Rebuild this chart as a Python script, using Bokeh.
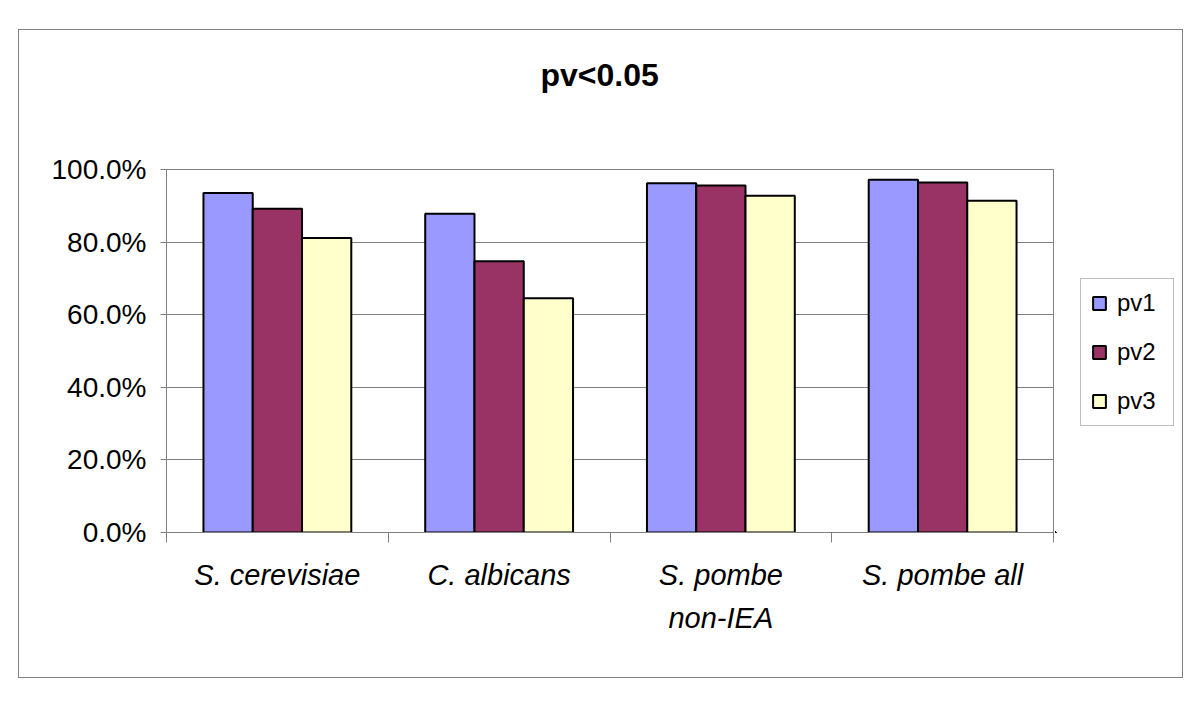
from bokeh.plotting import figure
from bokeh.layouts import row
from bokeh.models import (ColumnDataSource, FixedTicker, NumeralTickFormatter, Legend,
                          LegendItem, Range1d, Title)
from bokeh.transform import dodge
from bokeh.embed import file_html
from bokeh.resources import INLINE

# ---- data ----
categories = ["S. cerevisiae", "C. albicans", "S. pombe\nnon-IEA", "S. pombe all"]
series_names = ["pv1", "pv2", "pv3"]
pv1 = [0.935, 0.878, 0.962, 0.972]
pv2 = [0.892, 0.747, 0.956, 0.964]
pv3 = [0.811, 0.645, 0.928, 0.914]
y_ticks = [0.0, 0.2, 0.4, 0.6, 0.8, 1.0]
title_text = "pv<0.05"

colors = ["#9999FF", "#993366", "#FFFFCC"]
FONT = "Liberation Sans"
GRAY = "#808080"

n = len(categories)
centers = [i + 0.5 for i in range(n)]
bar_w = 1 / 4.5

p = figure(width=1036, height=647, output_backend="svg", toolbar_location=None,
           x_range=Range1d(0, n), y_range=Range1d(0, 1),
           min_border_left=147, min_border_right=2,
           min_border_top=139, min_border_bottom=145)
p.background_fill_color = "white"
p.border_fill_color = "white"
p.outline_line_color = GRAY
p.outline_line_width = 1

# spacer between the title and the plot area, then the title itself
p.add_layout(Title(text=" ", text_font_size="1px", standoff=72), "above")
p.add_layout(Title(text=title_text, align="left", offset=374, vertical_align="top",
                   standoff=0, text_font=FONT, text_font_size="32px",
                   text_font_style="bold", text_color="black"), "above")

src = ColumnDataSource(dict(x=centers, pv1=pv1, pv2=pv2, pv3=pv3))
for k, (name, col) in enumerate(zip(series_names, colors)):
    p.vbar(x=dodge("x", (k - 1) * bar_w, range=p.x_range), top=name, bottom=0,
           width=bar_w, source=src, fill_color=col, line_color="black", line_width=2)

# y axis
p.yaxis.ticker = FixedTicker(ticks=y_ticks)
p.yaxis.formatter = NumeralTickFormatter(format="0.0%")
p.yaxis.axis_line_color = GRAY
p.yaxis.major_tick_line_color = GRAY
p.yaxis.major_tick_in = 0
p.yaxis.major_tick_out = 6
p.yaxis.minor_tick_line_color = None
p.yaxis.major_label_text_font = FONT
p.yaxis.major_label_text_font_size = "28px"
p.yaxis.major_label_text_color = "black"
p.yaxis.major_label_standoff = 14

# x axis
p.xaxis.ticker = FixedTicker(ticks=centers, minor_ticks=list(range(n + 1)))
p.xaxis.major_label_overrides = {c: lab for c, lab in zip(centers, categories)}
p.xaxis.axis_line_color = GRAY
p.xaxis.major_tick_line_color = None
p.xaxis.major_tick_in = 0
p.xaxis.major_tick_out = 10
p.xaxis.minor_tick_line_color = GRAY
p.xaxis.minor_tick_in = 0
p.xaxis.minor_tick_out = 10
p.xaxis.major_label_text_font = FONT
p.xaxis.major_label_text_font_size = "29px"
p.xaxis.major_label_text_font_style = "italic"
p.xaxis.major_label_text_color = "black"
p.xaxis.major_label_text_line_height = 1.37
p.xaxis.major_label_standoff = 16

p.xgrid.visible = False
p.ygrid.ticker = FixedTicker(ticks=y_ticks)
p.ygrid.grid_line_color = GRAY
p.ygrid.grid_line_width = 1

# legend panel (separate small figure to the right of the plot area);
# its bars use the same data but lie outside its (empty) view
pl = figure(width=127, height=647, output_backend="svg", toolbar_location=None,
            x_range=Range1d(10, 11), y_range=Range1d(10, 11),
            x_axis_location=None, y_axis_location=None,
            min_border_left=0, min_border_right=0, min_border_top=0, min_border_bottom=0)
pl.outline_line_color = None
pl.background_fill_color = "white"
pl.border_fill_color = "white"
pl.grid.visible = False
leg_renderers = []
for k, (name, col) in enumerate(zip(series_names, colors)):
    leg_renderers.append(pl.vbar(x=dodge("x", (k - 1) * bar_w), top=name, bottom=0,
                                 width=bar_w, source=src, fill_color=col,
                                 line_color="black", line_width=2))

legend = Legend(items=[LegendItem(label=nm, renderers=[r])
                       for nm, r in zip(series_names, leg_renderers)],
                location=(25, 106))
legend.border_line_color = GRAY
legend.border_line_width = 1
legend.background_fill_color = "white"
legend.background_fill_alpha = 1
legend.glyph_width = 16
legend.glyph_height = 16
legend.label_text_font = FONT
legend.label_text_font_size = "24px"
legend.label_text_color = "black"
legend.label_standoff = 10
legend.label_width = 46
legend.spacing = 21
legend.padding = 10
legend.margin = 0
pl.add_layout(legend)

layout = row(p, pl, margin=(29, 0, 0, 18), styles={"border": "1px solid #808080"})

open("out.html", "w").write(file_html(layout, INLINE))
